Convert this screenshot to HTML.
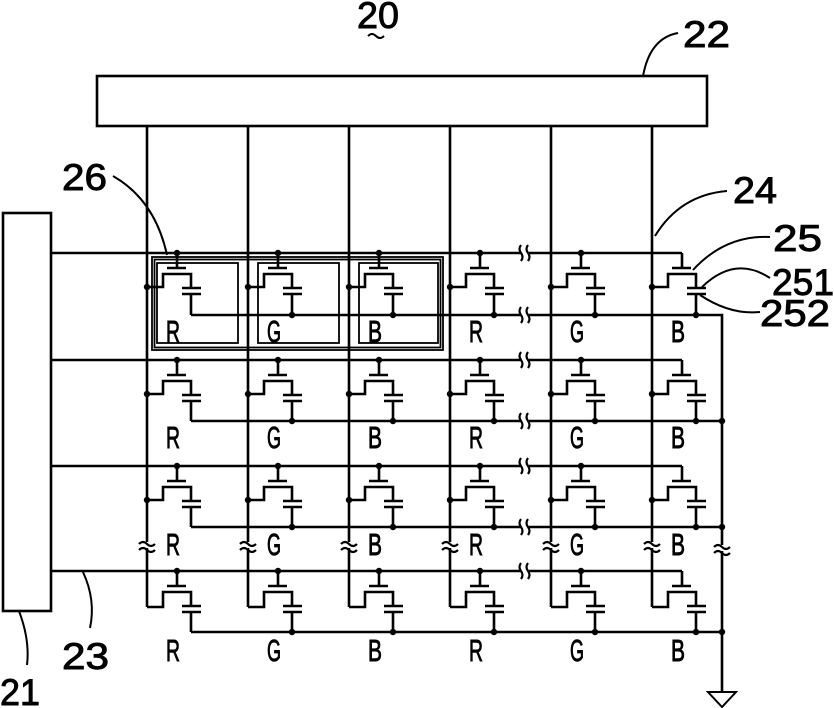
<!DOCTYPE html>
<html><head><meta charset="utf-8"><style>
html,body{margin:0;padding:0;background:#fff;}
svg{display:block;}
text{font-family:"Liberation Sans",sans-serif;fill:#000;stroke:#000;stroke-width:0.9;}
</style></head><body>
<svg width="834" height="708" viewBox="0 0 834 708" xmlns="http://www.w3.org/2000/svg">
<g fill="none" stroke="#000" stroke-width="2.6">
<rect x="97" y="76" width="610" height="50"/>
<rect x="3" y="213" width="48" height="398"/>
<path d="M147 126V607M248 126V607M349 126V607M450 126V607M551 126V607M652 126V607"/>
<path d="M51 253H682M51 360H682M51 466H682M51 571H682"/>
<path d="M191 315H722V692M191 421H722M191 527H722M191 632H722"/>
<path d="M708 692H736L722 707Z" stroke-width="2"/>
</g>
<g id="cells" fill="none" stroke="#000" stroke-width="2.6">
</g>
<g stroke="#000" stroke-width="1.8" fill="none">
<rect x="152" y="257" width="291" height="93"/>
<rect x="154.5" y="259.5" width="286" height="88"/>
<rect x="157" y="263" width="81" height="80"/>
<rect x="258" y="263" width="81" height="80"/>
<rect x="359" y="263" width="79" height="80"/>
</g>
<g fill="none" stroke="#000" stroke-width="2">
<path d="M113 176Q155 200 167 255"/>
<path d="M643 76Q650 38 678 33"/>
<path d="M655 236Q680 195 727 191"/>
<path d="M693 270Q725 235 770 237"/>
<path d="M702 287Q735 255 770 278"/>
<path d="M700 295Q730 315 760 312"/>
<path d="M19 611Q30 640 27 665"/>
<path d="M83 572Q96 600 90 628"/>
<path d="M368 36q4 -4 8 0t8 0"/>
</g>
<g font-size="37">
<text x="357" y="28" textLength="42" lengthAdjust="spacingAndGlyphs">20</text>
<text x="683" y="47" textLength="47" lengthAdjust="spacingAndGlyphs">22</text>
<text x="62" y="190" textLength="45" lengthAdjust="spacingAndGlyphs">26</text>
<text x="733" y="203" textLength="44" lengthAdjust="spacingAndGlyphs">24</text>
<text x="773" y="251" textLength="49" lengthAdjust="spacingAndGlyphs">25</text>
<text x="772" y="295" textLength="62" lengthAdjust="spacingAndGlyphs">251</text>
<text x="760" y="326" textLength="70" lengthAdjust="spacingAndGlyphs">252</text>
<text x="0" y="705" textLength="40" lengthAdjust="spacingAndGlyphs">21</text>
<text x="62" y="669" textLength="47" lengthAdjust="spacingAndGlyphs">23</text>
</g>
<g id="labels" font-size="31" style="stroke-width:1.2"></g>
<g id="breaks"></g>
<script>
(function(){
var NS="http://www.w3.org/2000/svg";
var xs=[147,248,349,450,551,652],gs=[253,360,466,571],cs=[315,421,527,632],lb=[342,448,555,661],L=["R","G","B","R","G","B"];
var cells=document.getElementById("cells"),labels=document.getElementById("labels"),br=document.getElementById("breaks");
function el(p,t,a){var e=document.createElementNS(NS,t);for(var k in a)e.setAttribute(k,a[k]);p.appendChild(e);return e;}
function dot(x,y){el(cells,"circle",{cx:x,cy:y,r:3.2,fill:"#000",stroke:"none"});}
for(var r=0;r<4;r++){var g=gs[r],c=cs[r];
 for(var i=0;i<6;i++){var x=xs[i];
  var cy=(r==3)?g+36:g+34;
  el(cells,"path",{d:"M"+(x+30)+" "+g+"V"+(g+15)+"M"+(x+20)+" "+(g+15)+"H"+(x+39)+
   "M"+x+" "+cy+"H"+(x+16)+"V"+(g+21)+"H"+(x+44)+"V"+(g+35)+
   "M"+(x+35)+" "+(g+35)+"H"+(x+54)+"M"+(x+35)+" "+(g+41)+"H"+(x+54)+
   "M"+(x+44)+" "+(g+41)+"V"+c});
  if(i<5)dot(x+30,g);
  if(r<3)dot(x,g+34);
  if(i>0)dot(x+44,c);
  var t=el(labels,"text",{x:x+19,y:lb[r],textLength:14,lengthAdjust:"spacingAndGlyphs"});t.textContent=L[i];
 }
 if(r>0)dot(722,c);
 var ys=(r==3)?[g]:[g,c];
 ys.forEach(function(y){
  el(br,"rect",{x:521,y:y-3,width:8,height:6,fill:"#fff"});
  el(br,"path",{d:"M521 "+(y-8)+"q-3 4 0 8t0 8M528 "+(y-8)+"q-3 4 0 8t0 8",fill:"none",stroke:"#000","stroke-width":2.2});
 });
}
xs.concat([722]).forEach(function(x){var y=(x==722)?548:545;
 el(br,"rect",{x:x-4,y:y-3,width:8,height:6,fill:"#fff"});
 el(br,"path",{d:"M"+(x-8)+" "+(y-1)+"q4 -4 8 0t8 0M"+(x-8)+" "+(y+5)+"q4 -4 8 0t8 0",fill:"none",stroke:"#000","stroke-width":2.2});
});
})();
</script>
</svg>
</body></html>
